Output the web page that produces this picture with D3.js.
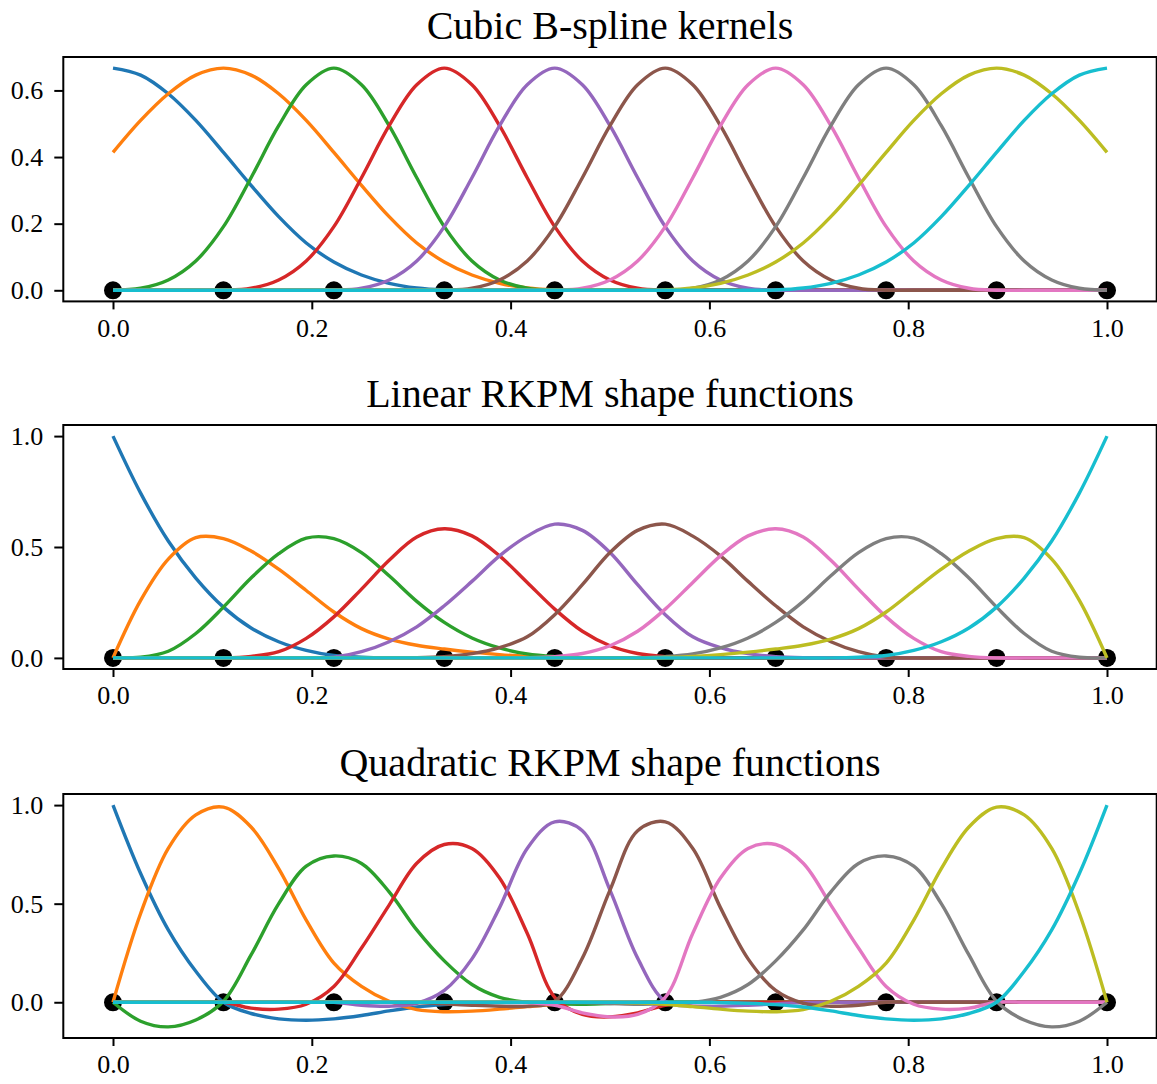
<!DOCTYPE html>
<html><head><meta charset="utf-8">
<script src="https://cdn.jsdelivr.net/npm/d3@7"></script>
<style>
body{margin:0;background:#fff}
svg{display:block}
text{font-family:"Liberation Serif","Times New Roman",serif;fill:#000}
</style>
</head><body>
<svg id="chart" width="1157" height="1084"></svg>
<script>
// ---------------- data ----------------
const xGrid = [0,0.0278,0.0556,0.0833,0.1111,0.1389,0.1667,0.1944,0.2222,0.25,
  0.2778,0.3056,0.3333,0.3611,0.3889,0.4167,0.4444,0.4722,0.5,0.5278,
  0.5556,0.5833,0.6111,0.6389,0.6667,0.6944,0.7222,0.75,0.7778,0.8056,
  0.8333,0.8611,0.8889,0.9167,0.9444,0.9722,1];
const nodes = [0,0.1111,0.2222,0.3333,0.4444,0.5556,0.6667,0.7778,0.8889,1];
const xTicks = [0,0.2,0.4,0.6,0.8,1.0];
const titles = ["Cubic B-spline kernels","Linear RKPM shape functions","Quadratic RKPM shape functions"];
const yTicks1 = [0,0.2,0.4,0.6];
const yTicks2 = [0,0.5,1.0];
const yTicks3 = [0,0.5,1.0];
const colors = ["#1f77b4","#ff7f0e","#2ca02c","#d62728","#9467bd","#8c564b","#e377c2","#7f7f7f","#bcbd22","#17becf"];

// Panel 1: cubic B-spline kernels
const blue1   = [0.667,0.646,0.590,0.510,0.414,0.315,0.221,0.142,0.085,0.046,0.021,0.007,0.001,0, 0,0,0,0,0,0,0,0,0,0, 0,0,0,0,0,0,0,0,0,0, 0,0,0];
const orange1 = [0.414,0.510,0.590,0.646,0.667,0.646,0.590,0.510,0.414,0.315,0.221,0.142,0.085,0.046,0.021,0.007,0.001, 0,0,0, 0,0,0,0,0,0,0,0,0,0, 0,0,0,0,0,0,0];
const green1  = [0,0.006,0.031,0.088,0.191,0.338,0.494,0.617,0.667,0.617,0.494,0.338,0.191,0.088,0.031,0.006, 0,0,0,0, 0,0,0,0,0,0,0,0,0,0, 0,0,0,0,0,0,0];
const red1    = [0,0,0,0,0,0.006,0.031,0.088,0.191,0.338,0.494,0.617,0.667,0.617,0.494,0.338,0.191,0.088,0.031,0.006, 0,0,0,0,0,0,0,0,0,0, 0,0,0,0,0,0,0];
const purple1 = [0,0,0,0,0,0,0,0,0,0.006,0.031,0.088,0.191,0.338,0.494,0.617,0.667,0.617,0.494,0.338,0.191,0.088,0.031,0.006, 0,0,0,0,0,0,0,0,0,0,0,0,0];
const brown1  = [0,0,0,0,0,0,0,0,0,0,0,0,0,0.006,0.031,0.088,0.191,0.338,0.494,0.617,0.667,0.617,0.494,0.338,0.191,0.088,0.031,0.006, 0,0,0,0,0,0,0,0,0];
const pink1   = [0,0,0,0,0,0,0,0,0,0,0,0,0,0,0,0,0,0.006,0.031,0.088,0.191,0.338,0.494,0.617,0.667,0.617,0.494,0.338,0.191,0.088,0.031,0.006, 0,0,0,0,0];
const gray1   = [0,0,0,0,0,0,0,0,0,0,0,0,0,0,0,0,0,0,0,0,0,0.006,0.031,0.088,0.191,0.338,0.494,0.617,0.667,0.617,0.494,0.338,0.191,0.088,0.031,0.006,0];
const olive1  = [0,0,0,0,0,0,0,0,0,0,0,0,0,0,0,0,0,0,0,0,0.001,0.007,0.021,0.046,0.085,0.142,0.221,0.315,0.414,0.510,0.590,0.646,0.667,0.646,0.590,0.510,0.414];
const cyan1   = [0,0,0,0,0,0,0,0,0,0,0,0,0,0,0,0,0,0,0,0,0,0,0,0,0.001,0.007,0.021,0.046,0.085,0.142,0.221,0.315,0.414,0.510,0.590,0.646,0.667];

// Panel 2: linear RKPM shape functions
const blue2   = [1.0,0.743,0.527,0.36,0.229,0.135,0.073,0.034,0.011,0.003, 0,0,0,0,0,0,0,0,0,0, 0,0,0,0,0,0,0,0,0,0, 0,0,0,0,0,0,0];
const orange2 = [0,0.259,0.445,0.542,0.538,0.482,0.40,0.304,0.207,0.132,0.085,0.057,0.040,0.026,0.015,0.007,0.002, 0,0,0, 0,0,0,0,0,0,0,0,0,0, 0,0,0,0,0,0,0];
const green2  = [0,0.003,0.03,0.11,0.229,0.36,0.47,0.54,0.538,0.475,0.37,0.255,0.16,0.09,0.045,0.018,0.006,0.001, 0,0, 0,0,0,0,0,0,0,0,0,0, 0,0,0,0,0,0,0];
const red2    = [0,0,0,0,0,0.007,0.028,0.088,0.185,0.31,0.44,0.545,0.582,0.55,0.46,0.34,0.22,0.12,0.055,0.02,0.006,0.001, 0,0,0,0,0,0,0,0, 0,0,0,0,0,0,0];
const purple2 = [0,0,0,0,0,0,0,0,0.003,0.028,0.073,0.14,0.235,0.345,0.46,0.549,0.603,0.575,0.475,0.33,0.195,0.095,0.046,0.019,0.006,0.001, 0,0,0,0,0,0,0,0,0,0,0];
const brown2  = [0,0,0,0,0,0,0,0,0,0,0,0.001,0.006,0.019,0.046,0.095,0.195,0.33,0.475,0.575,0.603,0.549,0.46,0.345,0.235,0.14,0.073,0.028,0.003, 0,0,0,0,0,0,0,0];
const pink2   = [0,0,0,0,0,0,0,0,0,0,0,0,0,0,0,0.001,0.006,0.02,0.055,0.12,0.22,0.34,0.46,0.55,0.582,0.545,0.44,0.31,0.185,0.088,0.028,0.007, 0,0,0,0,0];
const gray2   = [0,0,0,0,0,0,0,0,0,0,0,0,0,0,0,0,0,0,0,0.001,0.006,0.018,0.045,0.09,0.16,0.255,0.37,0.475,0.538,0.54,0.47,0.36,0.229,0.11,0.03,0.003,0];
const olive2  = [0,0,0,0,0,0,0,0,0,0,0,0,0,0,0,0,0,0,0,0,0.002,0.007,0.015,0.026,0.040,0.057,0.085,0.132,0.207,0.304,0.40,0.482,0.538,0.542,0.445,0.259,0];
const cyan2   = [0,0,0,0,0,0,0,0,0,0,0,0,0,0,0,0,0,0,0,0,0,0,0,0,0,0,0,0.003,0.011,0.034,0.073,0.135,0.229,0.36,0.527,0.743,1.0];

// Panel 3: quadratic RKPM shape functions
const blue3   = [1.0,0.653,0.367,0.157,0,-0.057,-0.084,-0.091,-0.084,-0.067,-0.044,-0.024,-0.012,-0.005,-0.002, 0,0,0,0,0, 0,0,0,0,0,0,0,0,0,0, 0,0,0,0,0,0,0];
const orange3 = [0,0.45,0.78,0.95,0.99,0.889,0.678,0.417,0.199,0.081,0.005,-0.037,-0.048,-0.045,-0.035,-0.022,-0.01,-0.003, 0,0, 0,0,0,0,0,0,0,0,0,0, 0,0,0,0,0,0,0];
const green3  = [0,-0.096,-0.125,-0.09,0.005,0.24,0.50,0.69,0.742,0.704,0.56,0.367,0.21,0.09,0.025,0,-0.008,-0.01,-0.006,-0.002, 0,0,0,0,0,0,0,0,0,0, 0,0,0,0,0,0,0];
const red3    = [0,0,0,0,0,-0.03,-0.035,-0.01,0.08,0.275,0.493,0.705,0.80,0.78,0.63,0.35,0.025,-0.062,-0.074,-0.054,-0.015,-0.002, 0,0,0,0,0,0,0,0, 0,0,0,0,0,0,0];
const purple3 = [0,0,0,0,0,0,0,0,0,-0.015,-0.02,-0.005,0.06,0.22,0.48,0.78,0.915,0.87,0.569,0.224,0.005,-0.02,-0.02,-0.015,-0.008,-0.002, 0,0,0,0,0,0,0,0,0,0,0];
const brown3  = [0,0,0,0,0,0,0,0,0,0,0,-0.002,-0.008,-0.015,-0.02,-0.02,0.005,0.224,0.569,0.87,0.915,0.78,0.48,0.22,0.06,-0.005,-0.02,-0.015, 0,0,0,0,0,0,0,0,0];
const pink3   = [0,0,0,0,0,0,0,0,0,0,0,0,0,0,0,-0.002,-0.015,-0.054,-0.074,-0.062,0.025,0.35,0.63,0.78,0.80,0.705,0.493,0.275,0.08,-0.01,-0.035,-0.03, 0,0,0,0,0];
const gray3   = [0,0,0,0,0,0,0,0,0,0,0,0,0,0,0,0,0,-0.002,-0.006,-0.01,-0.008,0,0.025,0.09,0.21,0.367,0.56,0.704,0.742,0.69,0.50,0.24,0.005,-0.09,-0.125,-0.096,0];
const olive3  = [0,0,0,0,0,0,0,0,0,0,0,0,0,0,0,0,0,0,0,-0.003,-0.01,-0.022,-0.035,-0.045,-0.048,-0.037,0.005,0.081,0.199,0.417,0.678,0.889,0.99,0.95,0.78,0.45,0];
const cyan3   = [0,0,0,0,0,0,0,0,0,0,0,0,0,0,0,0,0,0,0,0,0,0,-0.002,-0.005,-0.012,-0.024,-0.044,-0.067,-0.084,-0.091,-0.084,-0.057,0,0.157,0.367,0.653,1.0];

// ---------------- layout ----------------
const plotLeft = 63.3, plotRight = 1156.7;
const panels = [
  {title: titles[0], yTicks: yTicks1, top: 57,  bottom: 301.4,
   series: [blue1,orange1,green1,red1,purple1,brown1,pink1,gray1,olive1,cyan1]},
  {title: titles[1], yTicks: yTicks2, top: 425, bottom: 669,
   series: [blue2,orange2,green2,red2,purple2,brown2,pink2,gray2,olive2,cyan2]},
  {title: titles[2], yTicks: yTicks3, top: 794, bottom: 1038,
   series: [blue3,orange3,green3,red3,purple3,brown3,pink3,gray3,olive3,cyan3]}
];

const svg = d3.select("#chart");
const x = d3.scaleLinear().domain([-0.05, 1.05]).range([plotLeft, plotRight]);

panels.forEach(p => {
  const all = p.series.flat().concat([0]);
  const lo = d3.min(all), hi = d3.max(all);
  const pad = (hi - lo) * 0.05;
  const y = d3.scaleLinear().domain([lo - pad, hi + pad]).range([p.bottom, p.top]);
  const g = svg.append("g");

  // node markers (under the lines)
  g.selectAll("circle.node").data(nodes).join("circle")
    .attr("class","node")
    .attr("cx", d => x(d)).attr("cy", y(0)).attr("r", 9)
    .attr("fill", "#000");

  const line = d3.line()
    .x((d,i) => x(xGrid[i]))
    .y(d => y(d))
    .curve(d3.curveCatmullRom.alpha(0.5));

  p.series.forEach((s, k) => {
    g.append("path").attr("d", line(s))
      .attr("fill","none").attr("stroke", colors[k])
      .attr("stroke-width", 3.4).attr("stroke-linejoin","round");
  });

  // frame
  g.append("rect")
    .attr("x", plotLeft).attr("y", p.top)
    .attr("width", plotRight - plotLeft).attr("height", p.bottom - p.top)
    .attr("fill","none").attr("stroke","#000").attr("stroke-width", 2);

  // axes
  const xa = g.append("g").attr("transform", `translate(0,${p.bottom})`)
    .call(d3.axisBottom(x).tickValues(xTicks).tickFormat(d3.format(".1f")).tickSize(8).tickPadding(9));
  const ya = g.append("g").attr("transform", `translate(${plotLeft},0)`)
    .call(d3.axisLeft(y).tickValues(p.yTicks).tickFormat(d3.format(".1f")).tickSize(9).tickPadding(11));
  [xa, ya].forEach(a => {
    a.select(".domain").remove();
    a.selectAll(".tick line").attr("stroke","#000").attr("stroke-width", 2);
    a.selectAll(".tick text").attr("font-size", 26)
      .style("font-family", '"Liberation Serif","Times New Roman",serif').attr("fill","#000");
  });

  // title
  g.append("text").attr("x", (plotLeft + plotRight)/2).attr("y", p.top - 18)
    .attr("text-anchor","middle").attr("font-size", 40).text(p.title);
});
</script>
</body></html>
